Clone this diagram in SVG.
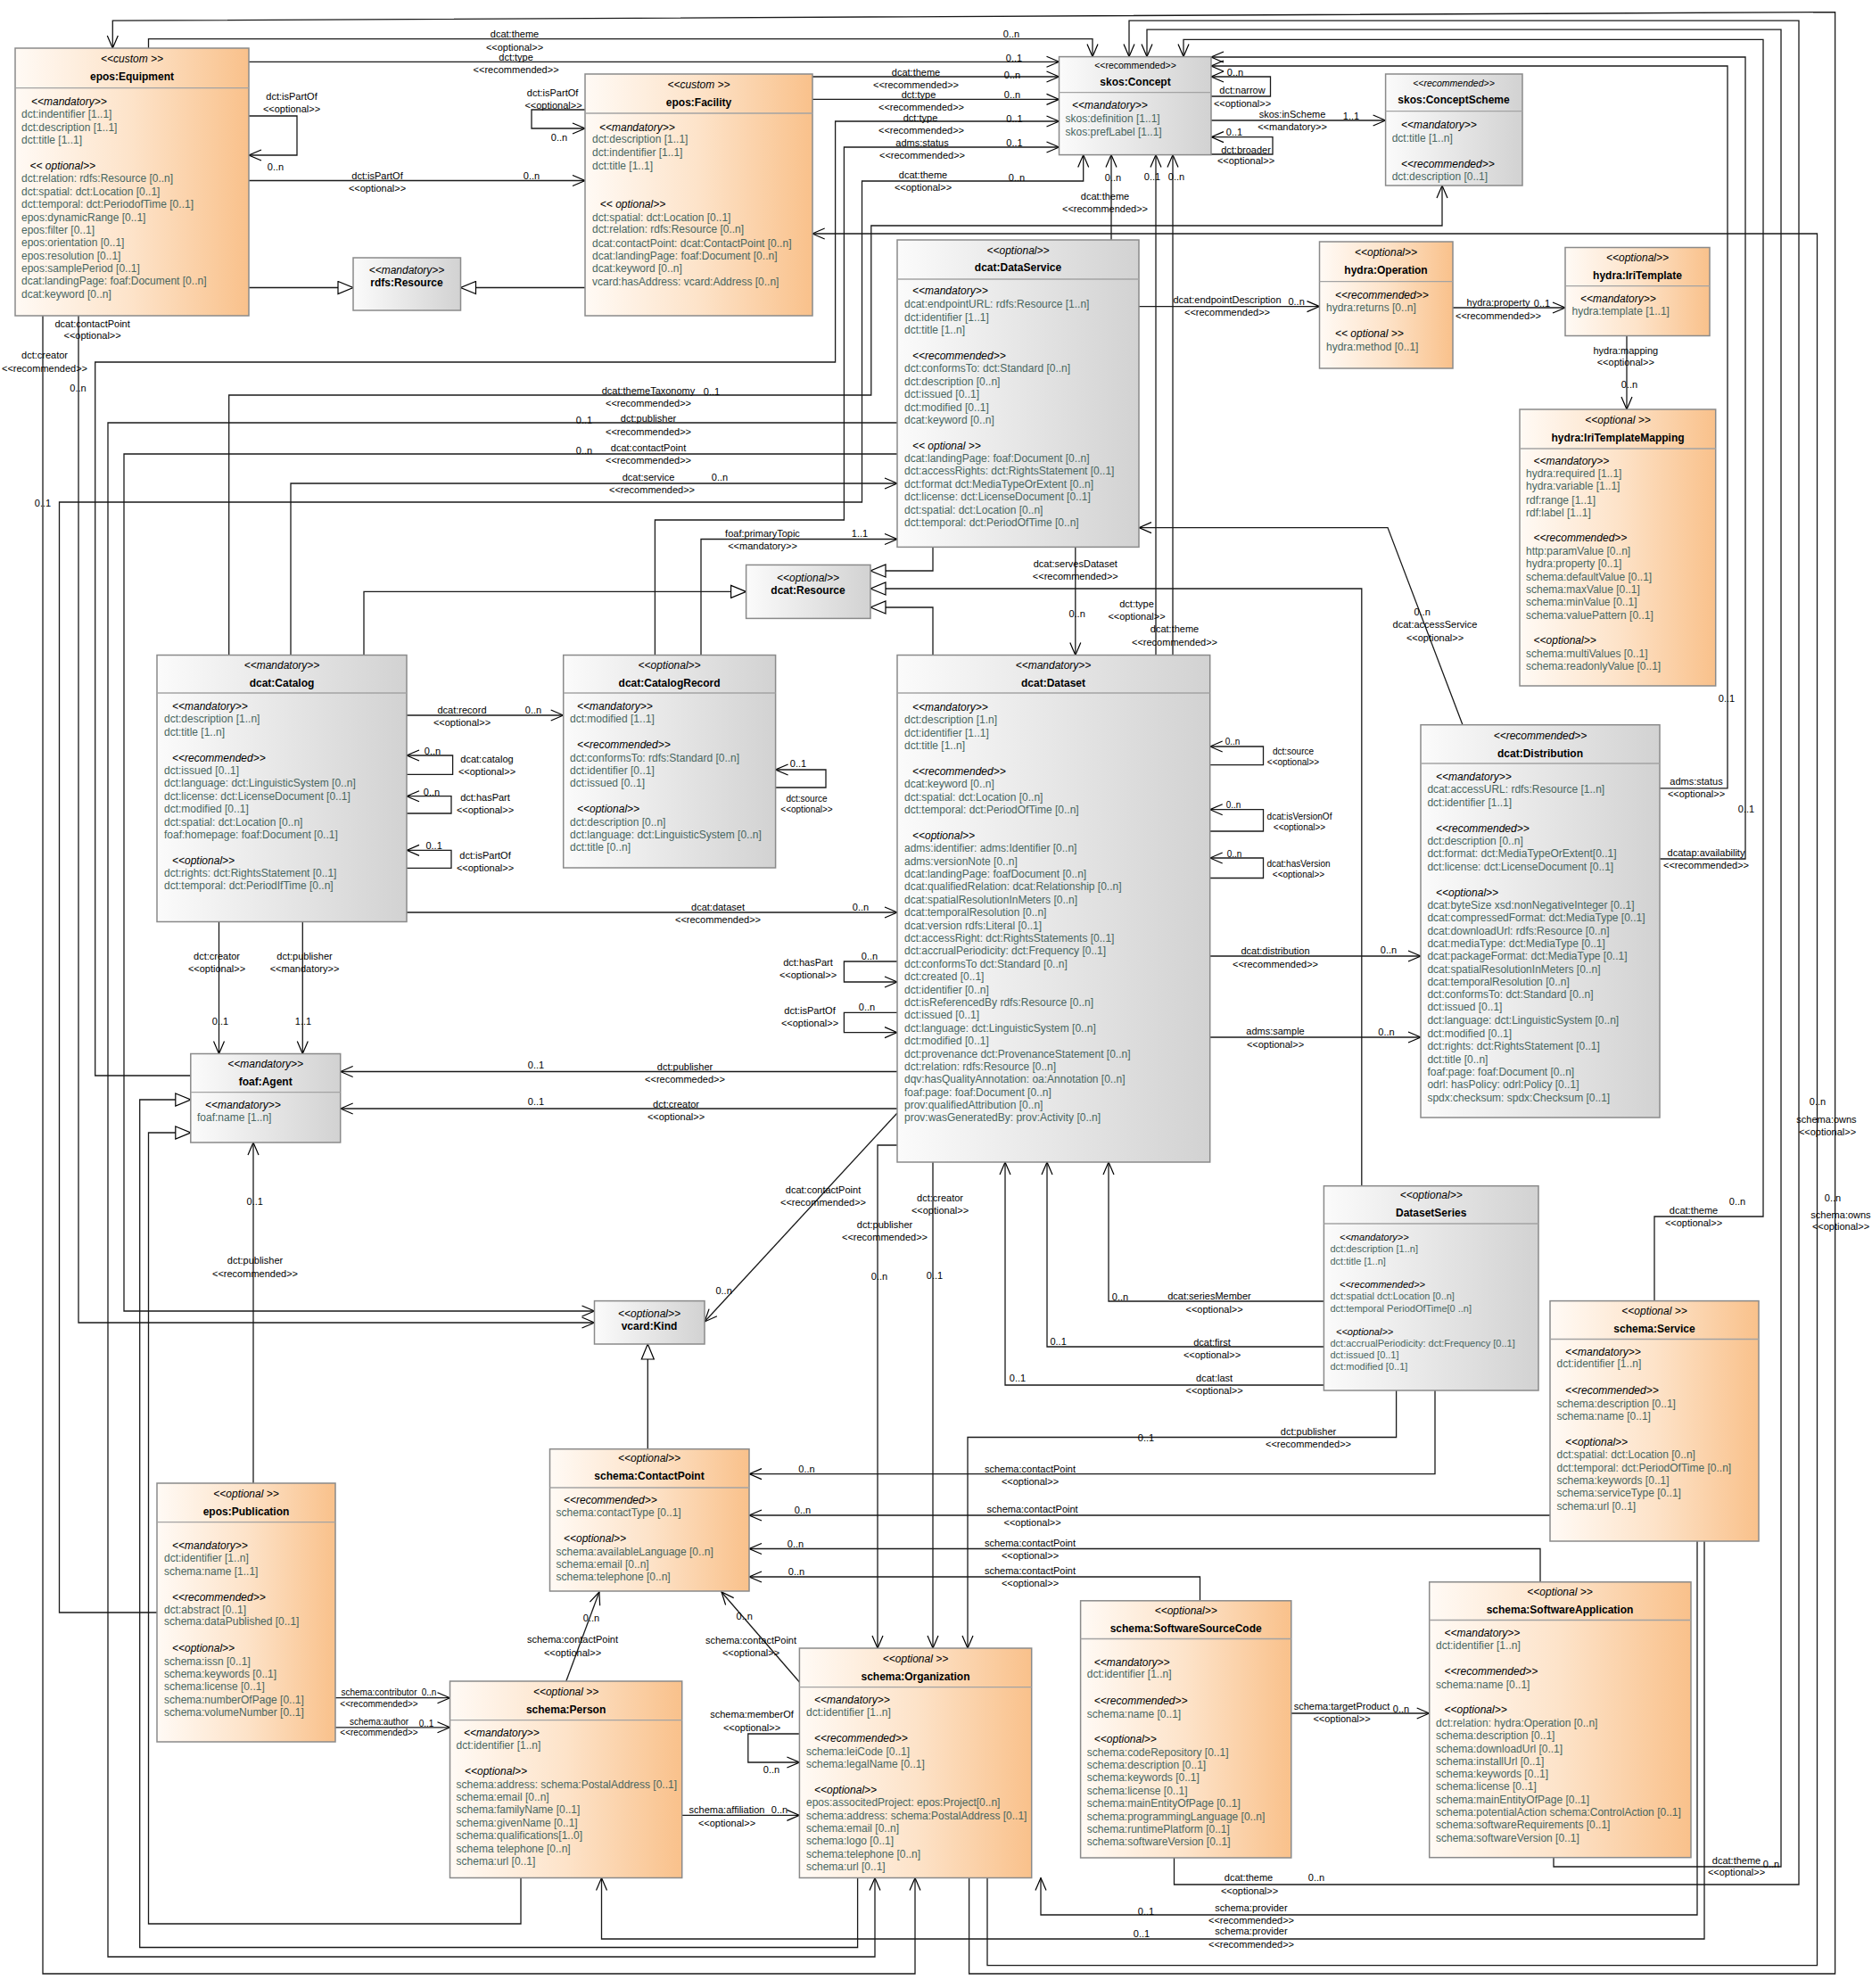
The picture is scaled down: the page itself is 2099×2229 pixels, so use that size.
<svg xmlns="http://www.w3.org/2000/svg" width="2099" height="2229" viewBox="0 0 2099 2229">
<defs>
<style>
text{font-family:"Liberation Sans",Arial,sans-serif;fill:#000}
.st{font-size:12px;font-style:italic;text-anchor:middle}
.ss{font-size:10.5px;text-anchor:middle}
.ssi{font-size:10.5px;font-style:italic;text-anchor:middle}
.nm{font-size:12px;font-weight:bold;text-anchor:middle}
.sec{font-size:12px;font-style:italic}
.at{font-size:12px;fill:#48665f}
.sec11{font-size:11px;font-style:italic}
.at11{font-size:11px;fill:#48665f}
.lb{font-size:11px;text-anchor:middle}
.lbs{font-size:10px;text-anchor:middle}
.box{stroke:#8a8a8a;stroke-width:1.5}
.g{fill:url(#gg)}
.o{fill:url(#og)}
.sep{stroke:#a3a3a3;stroke-width:1.3}
.cn path{fill:none;stroke:#1a1a1a;stroke-width:1.3}
.ar{marker-end:url(#ar)}
.tr{marker-end:url(#tr)}
</style>
<linearGradient id="gg" x1="0" y1="0" x2="1" y2="0"><stop offset="0" stop-color="#fbfbfb"/><stop offset="1" stop-color="#d2d2d2"/></linearGradient>
<linearGradient id="og" x1="0" y1="0" x2="1" y2="0"><stop offset="0" stop-color="#fffaf5"/><stop offset="0.5" stop-color="#fde3c9"/><stop offset="1" stop-color="#f9c18b"/></linearGradient>
<marker id="ar" viewBox="0 0 16 14" refX="15" refY="7" markerWidth="16" markerHeight="14" markerUnits="userSpaceOnUse" orient="auto"><path d="M1,1 L15,7 L1,13" fill="none" stroke="#000" stroke-width="1.2"/></marker>
<marker id="tr" viewBox="0 0 19 16" refX="18" refY="8" markerWidth="19" markerHeight="16" markerUnits="userSpaceOnUse" orient="auto"><path d="M1,1 L18,8 L1,15 Z" fill="#fff" stroke="#000" stroke-width="1.2"/></marker>
</defs>
<rect width="2099" height="2229" fill="#fff"/>

<g id="connectors" class="cn">
<path class="ar" d="M166.5,54 V43.6 H1225 V63.6"/>
<path class="ar" d="M279,69.3 H1187.5"/>
<path class="ar" d="M910.7,86 H1187.5"/>
<path class="ar" d="M910.7,111.4 H1187.5"/>
<path class="ar" d="M213.8,1206 H106.7 V406 H936.6 V136 H1187.5"/>
<path class="ar" d="M734.4,734.5 V583 H946.4 V165 H1187.5"/>
<path class="ar" d="M176,1808 H66.5 V563 H966.5 V203 H1214.7 V173.6"/>
<path class="ar" d="M1246,269 V173.6"/>
<path class="ar" d="M1296,734.5 V173.6"/>
<path class="ar" d="M1315,734.5 V173.6"/>
<path class="ar" d="M1358,108 H1424.5 V86 H1358"/>
<path class="ar" d="M1358,135 H1553.6"/>
<path class="ar" d="M1358,173 H1427 V153.6 H1358"/>
<path class="ar" d="M1861,963 H1957 V64 H1358"/>
<path class="ar" d="M1861,883.8 H1937 V74 H1358"/>
<path class="ar" d="M1855,1458.6 V1364 H1977 V44.3 H1327 V63.6"/>
<path class="ar" d="M1742,2082.7 V2093 H1997 V33.2 H1286 V63.6"/>
<path class="ar" d="M1316.5,2083 V2113 H2017 V23.2 H1266 V63.6"/>
<path class="ar" d="M1107,2105.5 V2203.7 H2037.5 V262 H910.7"/>
<path class="ar" d="M1086.6,2105.5 V2213 H2057.6 V13.6 L126.3,23.2 V54"/>
<path class="ar" d="M48,354 V2213 H1026 V2105.5"/>
<path class="ar" d="M88,354 V1483 H666.5"/>
<path class="ar" d="M1006,509 H139 V1470 H666.5"/>
<path class="ar" d="M1006,474 H121 V2194 H981 V2105.5"/>
<path class="ar" d="M256.7,734.5 V443 H976.8 V253 H1617 V208"/>
<path class="ar" d="M326,734.5 V542 H1006"/>
<path class="tr" d="M408,734.5 V663.4 H836.6"/>
<path class="tr" d="M1046,613.4 V640 H976"/>
<path class="tr" d="M1046,734.5 V681 H976"/>
<path class="tr" d="M1526.8,1329.7 V660 H976"/>
<path class="ar" d="M786,734.5 V604.5 H1006"/>
<path class="ar" d="M1205.8,613.4 V734.5"/>
<path class="ar" d="M1277,343.6 H1479.5"/>
<path class="ar" d="M1629,345 H1755"/>
<path class="ar" d="M1824,376.4 V459"/>
<path class="ar" d="M1640,812.7 L1556,591.6 H1277"/>
<path class="ar" d="M1356.7,1072 H1593"/>
<path class="ar" d="M1356.7,1163 H1593"/>
<path class="ar" d="M1356.7,857.7 H1416.5 V837 H1356.7"/>
<path class="ar" d="M1356.7,932 H1416.5 V907.7 H1356.7"/>
<path class="ar" d="M1356.7,984.5 H1416.5 V962 H1356.7"/>
<path class="ar" d="M1006,1078 H946.4 V1101 H1006"/>
<path class="ar" d="M1006,1135.4 H946.4 V1157.6 H1006"/>
<path class="ar" d="M1006,1201.5 H381.7"/>
<path class="ar" d="M1006,1243 H381.7"/>
<path class="ar" d="M1006,1248 L790,1482"/>
<path class="ar" d="M1006,1284 H984 V1848"/>
<path class="ar" d="M1046,1303 V1848"/>
<path class="ar" d="M1565.6,1559 V1611.5 H1085 V1848"/>
<path class="ar" d="M1484.4,1459 H1243 V1303"/>
<path class="ar" d="M1484.4,1510 H1174 V1303"/>
<path class="ar" d="M1484.4,1553 H1127 V1303"/>
<path class="ar" d="M1609,1559 V1652.6 H840"/>
<path class="ar" d="M1738,1699 H840"/>
<path class="ar" d="M1727,1773.8 V1736.5 H840"/>
<path class="ar" d="M1345.5,1794.8 V1768 H840"/>
<path class="ar" d="M634.8,1885 L671.9,1785"/>
<path class="ar" d="M896.4,1886 L809,1785"/>
<path class="tr" d="M726.3,1624.7 V1507"/>
<path class="ar" d="M376,1903.7 H504.5"/>
<path class="ar" d="M376,1936.8 H504.5"/>
<path class="ar" d="M764.7,2035.4 H896.4"/>
<path class="ar" d="M896.4,1944 H838.8 V1976 H896.4"/>
<path class="ar" d="M1447.8,1921 H1602.7"/>
<path class="ar" d="M1903,1728 V2147 H1167 V2105.5"/>
<path class="ar" d="M1911,1728 V2174 H674.5 V2105.5"/>
<path class="tr" d="M961.6,2105.5 V2183.5 H156.7 V1233 H213.8"/>
<path class="tr" d="M584,2105.5 V2157 H166.5 V1270 H213.8"/>
<path class="ar" d="M456,802 H631.7"/>
<path class="ar" d="M456,868.4 H507.6 V847 H456"/>
<path class="ar" d="M456,912 H506 V892.7 H456"/>
<path class="ar" d="M456,973.4 H506 V953.4 H456"/>
<path class="ar" d="M456,1023 H1006"/>
<path class="ar" d="M245.5,1033.4 V1181.5"/>
<path class="ar" d="M339.3,1033.4 V1181.5"/>
<path class="ar" d="M284,1663 V1281"/>
<path class="ar" d="M869.6,883 H926 V863 H869.6"/>
<path class="ar" d="M279,130 H333 V174 H279"/>
<path class="ar" d="M279,202.5 H656"/>
<path class="ar" d="M656,123 H596 V144 H656"/>
<path class="tr" d="M279,322.5 H396"/>
<path class="tr" d="M656,322.5 H516.5"/>
</g>

<g id="connector-labels">
<text class="lb" x="577" y="42">dcat:theme</text><text class="lb" x="577" y="56.5">&lt;&lt;optional&gt;&gt;</text><text class="lb" x="1134" y="42">0..n</text>
<text class="lb" x="578.6" y="68">dct:type</text><text class="lb" x="578.6" y="82">&lt;&lt;recommended&gt;&gt;</text><text class="lb" x="1137" y="69">0..1</text>
<text class="lb" x="1027" y="85.4">dcat:theme</text><text class="lb" x="1027" y="99">&lt;&lt;recommended&gt;&gt;</text><text class="lb" x="1135" y="88">0..n</text>
<text class="lb" x="1030" y="110.4">dct:type</text><text class="lb" x="1033" y="124">&lt;&lt;recommended&gt;&gt;</text><text class="lb" x="1135" y="110">0..n</text>
<text class="lb" x="1032" y="136">dct:type</text><text class="lb" x="1033" y="150.4">&lt;&lt;recommended&gt;&gt;</text><text class="lb" x="1137.5" y="136.5">0..1</text>
<text class="lb" x="1034" y="164">adms:status</text><text class="lb" x="1034" y="178">&lt;&lt;recommended&gt;&gt;</text><text class="lb" x="1137.5" y="163.6">0..1</text>
<text class="lb" x="1035" y="200">dcat:theme</text><text class="lb" x="1035" y="214">&lt;&lt;optional&gt;&gt;</text><text class="lb" x="1140" y="202.6">0..n</text>
<text class="lb" x="1248" y="203">0..n</text><text class="lb" x="1239" y="224">dcat:theme</text><text class="lb" x="1239" y="238">&lt;&lt;recommended&gt;&gt;</text>
<text class="lb" x="1292" y="201.5">0..1</text><text class="lb" x="1274.5" y="681">dct:type</text><text class="lb" x="1274.5" y="695">&lt;&lt;optional&gt;&gt;</text>
<text class="lb" x="1319" y="201.5">0..n</text><text class="lb" x="1317" y="709">dcat:theme</text><text class="lb" x="1317" y="723.5">&lt;&lt;recommended&gt;&gt;</text>
<text class="lb" x="1393" y="105">dct:narrow</text><text class="lb" x="1393" y="119.5">&lt;&lt;optional&gt;&gt;</text><text class="lb" x="1385" y="85">0..n</text>
<text class="lb" x="1449" y="132">skos:inScheme</text><text class="lb" x="1449" y="146">&lt;&lt;mandatory&gt;&gt;</text><text class="lb" x="1515" y="134">1..1</text>
<text class="lb" x="1397" y="172">dct:broader</text><text class="lb" x="1397" y="184">&lt;&lt;optional&gt;&gt;</text><text class="lb" x="1384" y="152">0..1</text>
<text class="lb" x="1913" y="960">dcatap:availability</text><text class="lb" x="1913" y="974">&lt;&lt;recommended&gt;&gt;</text><text class="lb" x="1958" y="910.6">0..1</text>
<text class="lb" x="1902" y="880">adms:status</text><text class="lb" x="1902" y="894">&lt;&lt;optional&gt;&gt;</text><text class="lb" x="1936" y="787">0..1</text>
<text class="lb" x="1899" y="1361">dcat:theme</text><text class="lb" x="1899" y="1375">&lt;&lt;optional&gt;&gt;</text><text class="lb" x="1948" y="1351">0..n</text>
<text class="lb" x="1947" y="2089.6">dcat:theme</text><text class="lb" x="1986" y="2094">0..n</text><text class="lb" x="1947" y="2103">&lt;&lt;optional&gt;&gt;</text>
<text class="lb" x="1400" y="2109">dcat:theme</text><text class="lb" x="1401" y="2124">&lt;&lt;optional&gt;&gt;</text><text class="lb" x="1476" y="2109">0..n</text>
<text class="lb" x="2038" y="1239">0..n</text><text class="lb" x="2048" y="1259">schema:owns</text><text class="lb" x="2049" y="1273">&lt;&lt;optional&gt;&gt;</text>
<text class="lb" x="2055" y="1346.6">0..n</text><text class="lb" x="2064" y="1365.5">schema:owns</text><text class="lb" x="2064" y="1379.4">&lt;&lt;optional&gt;&gt;</text>
<text class="lb" x="50" y="402">dct:creator</text><text class="lb" x="50" y="416.5">&lt;&lt;recommended&gt;&gt;</text><text class="lb" x="48" y="568">0..1</text>
<text class="lb" x="103.6" y="366.5">dcat:contactPoint</text><text class="lb" x="103.6" y="380">&lt;&lt;optional&gt;&gt;</text><text class="lb" x="87.5" y="438.6">0..n</text>
<text class="lb" x="727" y="506">dcat:contactPoint</text><text class="lb" x="727" y="519.6">&lt;&lt;recommended&gt;&gt;</text><text class="lb" x="655" y="509">0..n</text>
<text class="lb" x="727" y="472.6">dct:publisher</text><text class="lb" x="727" y="488">&lt;&lt;recommended&gt;&gt;</text><text class="lb" x="655" y="475">0..1</text>
<text class="lb" x="727" y="442">dcat:themeTaxonomy</text><text class="lb" x="727" y="456">&lt;&lt;recommended&gt;&gt;</text><text class="lb" x="798" y="442.6">0..1</text>
<text class="lb" x="727" y="539">dcat:service</text><text class="lb" x="731" y="553">&lt;&lt;recommended&gt;&gt;</text><text class="lb" x="807" y="539">0..n</text>
<text class="lb" x="855" y="602">foaf:primaryTopic</text><text class="lb" x="855" y="616">&lt;&lt;mandatory&gt;&gt;</text><text class="lb" x="964" y="602">1..1</text>
<text class="lb" x="1205.8" y="636">dcat:servesDataset</text><text class="lb" x="1205.8" y="650">&lt;&lt;recommended&gt;&gt;</text><text class="lb" x="1207.6" y="691.7">0..n</text>
<text class="lb" x="1376" y="339.7">dcat:endpointDescription</text><text class="lb" x="1376" y="354">&lt;&lt;recommended&gt;&gt;</text><text class="lb" x="1453.6" y="342">0..n</text>
<text class="lb" x="1680" y="343">hydra:property</text><text class="lb" x="1729" y="344">0..1</text><text class="lb" x="1680" y="357.6">&lt;&lt;recommended&gt;&gt;</text>
<text class="lb" x="1822.8" y="396.5">hydra:mapping</text><text class="lb" x="1822.8" y="410">&lt;&lt;optional&gt;&gt;</text><text class="lb" x="1827" y="435.4">0..n</text>
<text class="lb" x="1594.6" y="689.6">0..n</text><text class="lb" x="1609" y="704">dcat:accessService</text><text class="lb" x="1609" y="718.5">&lt;&lt;optional&gt;&gt;</text>
<text class="lb" x="1430" y="1070">dcat:distribution</text><text class="lb" x="1430" y="1085">&lt;&lt;recommended&gt;&gt;</text><text class="lb" x="1557" y="1069">0..n</text>
<text class="lb" x="1430" y="1160">adms:sample</text><text class="lb" x="1430" y="1175">&lt;&lt;optional&gt;&gt;</text><text class="lb" x="1554.5" y="1161">0..n</text>
<text class="lbs" x="1382" y="835">0..n</text><text class="lbs" x="1450" y="845.5">dct:source</text><text class="lbs" x="1450" y="857.5">&lt;&lt;optional&gt;&gt;</text>
<text class="lbs" x="1383" y="905.6">0..n</text><text class="lbs" x="1457" y="918.5">dcat:isVersionOf</text><text class="lbs" x="1457" y="930.5">&lt;&lt;optional&gt;&gt;</text>
<text class="lbs" x="1384" y="961">0..n</text><text class="lbs" x="1456" y="971.5">dcat:hasVersion</text><text class="lbs" x="1456" y="984">&lt;&lt;optional&gt;&gt;</text>
<text class="lb" x="975" y="1075.6">0..n</text><text class="lb" x="906" y="1083">dct:hasPart</text><text class="lb" x="906" y="1097.4">&lt;&lt;optional&gt;&gt;</text>
<text class="lb" x="908" y="1136.6">dct:isPartOf</text><text class="lb" x="908" y="1151">&lt;&lt;optional&gt;&gt;</text><text class="lb" x="972" y="1133">0..n</text>
<text class="lb" x="768" y="1200">dct:publisher</text><text class="lb" x="768" y="1214">&lt;&lt;recommeded&gt;&gt;</text><text class="lb" x="601" y="1198">0..1</text>
<text class="lb" x="758" y="1242">dct:creator</text><text class="lb" x="758" y="1256">&lt;&lt;optional&gt;&gt;</text><text class="lb" x="601" y="1239.4">0..1</text>
<text class="lb" x="923" y="1338">dcat:contactPoint</text><text class="lb" x="923" y="1352">&lt;&lt;recommended&gt;&gt;</text><text class="lb" x="811.6" y="1451">0..n</text>
<text class="lb" x="992" y="1377">dct:publisher</text><text class="lb" x="992" y="1391">&lt;&lt;recommended&gt;&gt;</text><text class="lb" x="986" y="1435">0..n</text>
<text class="lb" x="1054" y="1347">dct:creator</text><text class="lb" x="1054" y="1361">&lt;&lt;optional&gt;&gt;</text><text class="lb" x="1048" y="1434">0..1</text>
<text class="lb" x="1467" y="1609">dct:publisher</text><text class="lb" x="1467" y="1623">&lt;&lt;recommended&gt;&gt;</text><text class="lb" x="1285" y="1616">0..1</text>
<text class="lb" x="1356" y="1457">dcat:seriesMember</text><text class="lb" x="1361.6" y="1471.6">&lt;&lt;optional&gt;&gt;</text><text class="lb" x="1256" y="1458">0..n</text>
<text class="lb" x="1359" y="1509">dcat:first</text><text class="lb" x="1359" y="1523">&lt;&lt;optional&gt;&gt;</text><text class="lb" x="1186.6" y="1508">0..1</text>
<text class="lb" x="1361.6" y="1549">dcat:last</text><text class="lb" x="1361.6" y="1563">&lt;&lt;optional&gt;&gt;</text><text class="lb" x="1141" y="1549">0..1</text>
<text class="lb" x="904.5" y="1651">0..n</text><text class="lb" x="1155" y="1651">schema:contactPoint</text><text class="lb" x="1155" y="1665">&lt;&lt;optional&gt;&gt;</text>
<text class="lb" x="900" y="1697">0..n</text><text class="lb" x="1157.6" y="1696">schema:contactPoint</text><text class="lb" x="1157.6" y="1710.6">&lt;&lt;optional&gt;&gt;</text>
<text class="lb" x="892" y="1735">0..n</text><text class="lb" x="1155" y="1734">schema:contactPoint</text><text class="lb" x="1155" y="1748">&lt;&lt;optional&gt;&gt;</text>
<text class="lb" x="893" y="1766">0..n</text><text class="lb" x="1155" y="1765">schema:contactPoint</text><text class="lb" x="1155" y="1779">&lt;&lt;optional&gt;&gt;</text>
<text class="lb" x="663" y="1818.4">0..n</text><text class="lb" x="642" y="1842">schema:contactPoint</text><text class="lb" x="642" y="1856.5">&lt;&lt;optional&gt;&gt;</text>
<text class="lb" x="834.8" y="1815.6">0..n</text><text class="lb" x="842" y="1843">schema:contactPoint</text><text class="lb" x="842" y="1857">&lt;&lt;optional&gt;&gt;</text>
<text class="lbs" x="425" y="1901">schema:contributor</text><text class="lbs" x="481" y="1901">0..n</text><text class="lbs" x="425" y="1913.5">&lt;&lt;recommended&gt;&gt;</text>
<text class="lbs" x="425" y="1934">schema:author</text><text class="lbs" x="478" y="1936">0..1</text><text class="lbs" x="425" y="1946">&lt;&lt;recommended&gt;&gt;</text>
<text class="lb" x="815" y="2033">schema:affiliation</text><text class="lb" x="874" y="2033">0..n</text><text class="lb" x="815" y="2047.6">&lt;&lt;optional&gt;&gt;</text>
<text class="lb" x="843" y="1926">schema:memberOf</text><text class="lb" x="843" y="1940.5">&lt;&lt;optional&gt;&gt;</text><text class="lb" x="865" y="1988">0..n</text>
<text class="lb" x="1504.5" y="1917">schema:targetProduct</text><text class="lb" x="1571" y="1919.5">0..n</text><text class="lb" x="1504.5" y="1931">&lt;&lt;optional&gt;&gt;</text>
<text class="lb" x="1285" y="2146.5">0..1</text><text class="lb" x="1403" y="2143">schema:provider</text><text class="lb" x="1403" y="2157">&lt;&lt;recommended&gt;&gt;</text>
<text class="lb" x="1280" y="2172">0..1</text><text class="lb" x="1403" y="2169">schema:provider</text><text class="lb" x="1403" y="2184">&lt;&lt;recommended&gt;&gt;</text>
<text class="lb" x="518" y="800">dcat:record</text><text class="lb" x="518" y="814">&lt;&lt;optional&gt;&gt;</text><text class="lb" x="598" y="800">0..n</text>
<text class="lb" x="485" y="845.5">0..n</text><text class="lb" x="546" y="855">dcat:catalog</text><text class="lb" x="546" y="869">&lt;&lt;optional&gt;&gt;</text>
<text class="lb" x="484" y="891.5">0..n</text><text class="lb" x="544" y="898">dct:hasPart</text><text class="lb" x="544" y="912">&lt;&lt;optional&gt;&gt;</text>
<text class="lb" x="486.6" y="952">0..1</text><text class="lb" x="544" y="962.8">dct:isPartOf</text><text class="lb" x="544" y="977">&lt;&lt;optional&gt;&gt;</text>
<text class="lb" x="805" y="1021">dcat:dataset</text><text class="lb" x="805" y="1035">&lt;&lt;recommended&gt;&gt;</text><text class="lb" x="965" y="1021">0..n</text>
<text class="lb" x="243" y="1076">dct:creator</text><text class="lb" x="243" y="1090">&lt;&lt;optional&gt;&gt;</text><text class="lb" x="247" y="1149.4">0..1</text>
<text class="lb" x="341.5" y="1076">dct:publisher</text><text class="lb" x="341.5" y="1090">&lt;&lt;mandatory&gt;&gt;</text><text class="lb" x="340" y="1149.4">1..1</text>
<text class="lb" x="285.7" y="1350.5">0..1</text><text class="lb" x="286" y="1417">dct:publisher</text><text class="lb" x="286" y="1431.6">&lt;&lt;recommended&gt;&gt;</text>
<text class="lb" x="895" y="860">0..1</text><text class="lbs" x="904.5" y="898.5">dct:source</text><text class="lbs" x="904.5" y="911">&lt;&lt;optional&gt;&gt;</text>
<text class="lb" x="327" y="112">dct:isPartOf</text><text class="lb" x="327" y="126">&lt;&lt;optional&gt;&gt;</text><text class="lb" x="309" y="191">0..n</text>
<text class="lb" x="423" y="201">dct:isPartOf</text><text class="lb" x="423" y="215">&lt;&lt;optional&gt;&gt;</text><text class="lb" x="596" y="201">0..n</text>
<text class="lb" x="619.6" y="108">dct:isPartOf</text><text class="lb" x="620.5" y="122">&lt;&lt;optional&gt;&gt;</text><text class="lb" x="627" y="158">0..n</text>
</g>

<g id="epos-Equipment">
<rect class="box o" x="17" y="54" width="262" height="300"/><line class="sep" x1="17" y1="98.6" x2="279" y2="98.6"/>
<text class="st" x="148" y="70">&lt;&lt;custom &gt;&gt;</text><text class="nm" x="148" y="90">epos:Equipment</text>
<text class="sec" x="35" y="118">&lt;&lt;mandatory&gt;&gt;</text>
<text class="at" x="24" y="131.5">dct:indentifier [1..1]</text><text class="at" x="24" y="147">dct:description [1..1]</text><text class="at" x="24" y="160.5">dct:title [1..1]</text>
<text class="sec" x="33.5" y="189.7">&lt;&lt; optional&gt;&gt;</text>
<text class="at" x="24" y="203.6">dct:relation: rdfs:Resource [0..n]</text>
<text class="at" x="24" y="218.6">dct:spatial: dct:Location [0..1]</text>
<text class="at" x="24" y="232.6">dct:temporal: dct:PeriodofTime [0..1]</text>
<text class="at" x="24" y="248">epos:dynamicRange [0..1]</text>
<text class="at" x="24" y="262">epos:filter [0..1]</text>
<text class="at" x="24" y="276">epos:orientation [0..1]</text>
<text class="at" x="24" y="290.8">epos:resolution [0..1]</text>
<text class="at" x="24" y="304.7">epos:samplePeriod [0..1]</text>
<text class="at" x="24" y="319">dcat:landingPage: foaf:Document [0..n]</text>
<text class="at" x="24" y="333.6">dcat:keyword [0..n]</text>
</g>

<g id="epos-Facility">
<rect class="box o" x="656" y="83" width="255" height="271"/><line class="sep" x1="656" y1="127" x2="911" y2="127"/>
<text class="st" x="783.5" y="99">&lt;&lt;custom &gt;&gt;</text><text class="nm" x="783.5" y="118.6">epos:Facility</text>
<text class="sec" x="672" y="147">&lt;&lt;mandatory&gt;&gt;</text>
<text class="at" x="664" y="160.4">dct:description [1..1]</text><text class="at" x="664" y="175.4">dct:indentifier [1..1]</text><text class="at" x="664" y="189.7">dct:title [1..1]</text>
<text class="sec" x="672.8" y="232.6">&lt;&lt; optional&gt;&gt;</text>
<text class="at" x="664" y="247.6">dct:spatial: dct:Location [0..1]</text>
<text class="at" x="664" y="261">dct:relation: rdfs:Resource [0..n]</text>
<text class="at" x="664" y="276.5">dcat:contactPoint: dcat:ContactPoint [0..n]</text>
<text class="at" x="664" y="290.8">dcat:landingPage: foaf:Document [0..n]</text>
<text class="at" x="664" y="304.7">dcat:keyword [0..n]</text>
<text class="at" x="664" y="319.7">vcard:hasAddress: vcard:Address [0..n]</text>
</g>

<g id="rdfs-Resource">
<rect class="box g" x="396" y="289" width="120.5" height="59"/>
<text class="st" x="456" y="307">&lt;&lt;mandatory&gt;&gt;</text><text class="nm" x="456" y="321">rdfs:Resource</text>
</g>

<g id="skos-Concept">
<rect class="box g" x="1187.5" y="63.6" width="170.5" height="110"/><line class="sep" x1="1187.5" y1="103.6" x2="1358" y2="103.6"/>
<text class="ss" x="1273" y="76.5">&lt;&lt;recommended&gt;&gt;</text><text class="nm" x="1273" y="96">skos:Concept</text>
<text class="sec" x="1202" y="122">&lt;&lt;mandatory&gt;&gt;</text>
<text class="at" x="1194.6" y="137">skos:definition [1..1]</text><text class="at" x="1194.6" y="151.5">skos:prefLabel [1..1]</text>
</g>

<g id="skos-ConceptScheme">
<rect class="box g" x="1553.6" y="83" width="153.4" height="125"/><line class="sep" x1="1553.6" y1="124.6" x2="1707" y2="124.6"/>
<text class="ssi" x="1630" y="97">&lt;&lt;recommended&gt;&gt;</text><text class="nm" x="1630" y="115.8">skos:ConceptScheme</text>
<text class="sec" x="1571" y="144">&lt;&lt;mandatory&gt;&gt;</text><text class="at" x="1560.7" y="158.6">dct:title [1..n]</text>
<text class="sec" x="1571" y="188">&lt;&lt;recommended&gt;&gt;</text><text class="at" x="1560.7" y="201.5">dct:description [0..1]</text>
</g>

<g id="dcat-DataService">
<rect class="box g" x="1006" y="269" width="271" height="344.4"/><line class="sep" x1="1006" y1="313" x2="1277" y2="313"/>
<text class="st" x="1141.5" y="285">&lt;&lt;optional&gt;&gt;</text><text class="nm" x="1141.5" y="304">dcat:DataService</text>
<text class="sec" x="1023" y="330.4">&lt;&lt;mandatory&gt;&gt;</text>
<text class="at" x="1014" y="345">dcat:endpointURL: rdfs:Resource [1..n]</text>
<text class="at" x="1014" y="359.7">dct:identifier [1..1]</text>
<text class="at" x="1014" y="374">dct:title [1..n]</text>
<text class="sec" x="1023" y="402.6">&lt;&lt;recommended&gt;&gt;</text>
<text class="at" x="1014" y="417">dct:conformsTo: dct:Standard [0..n]</text>
<text class="at" x="1014" y="432">dct:description [0..n]</text>
<text class="at" x="1014" y="446">dct:issued [0..1]</text>
<text class="at" x="1014" y="460.8">dct:modified [0..1]</text>
<text class="at" x="1014" y="475">dcat:keyword [0..n]</text>
<text class="sec" x="1023" y="504">&lt;&lt; optional &gt;&gt;</text>
<text class="at" x="1014" y="518">dcat:landingPage: foaf:Document [0..n]</text>
<text class="at" x="1014" y="532">dct:accessRights: dct:RightsStatement [0..1]</text>
<text class="at" x="1014" y="547">dct:format dct:MediaTypeOrExtent [0..n]</text>
<text class="at" x="1014" y="561">dct:license: dct:LicenseDocument [0..1]</text>
<text class="at" x="1014" y="575.6">dct:spatial: dct:Location [0..n]</text>
<text class="at" x="1014" y="589.6">dct:temporal: dct:PeriodOfTime [0..n]</text>
</g>

<g id="hydra-Operation">
<rect class="box o" x="1479.5" y="271" width="149.5" height="142"/><line class="sep" x1="1479.5" y1="315.7" x2="1629" y2="315.7"/>
<text class="st" x="1554" y="287">&lt;&lt;optional&gt;&gt;</text><text class="nm" x="1554" y="307">hydra:Operation</text>
<text class="sec" x="1497" y="334.7">&lt;&lt;recommended&gt;&gt;</text><text class="at" x="1487" y="349">hydra:returns [0..n]</text>
<text class="sec" x="1497" y="378">&lt;&lt; optional &gt;&gt;</text><text class="at" x="1487" y="392.6">hydra:method [0..1]</text>
</g>

<g id="hydra-IriTemplate">
<rect class="box o" x="1755" y="277.5" width="162" height="99"/><line class="sep" x1="1755" y1="320.7" x2="1917" y2="320.7"/>
<text class="st" x="1836" y="293">&lt;&lt;optional&gt;&gt;</text><text class="nm" x="1836" y="312.6">hydra:IriTemplate</text>
<text class="sec" x="1772" y="338.6">&lt;&lt;mandatory&gt;&gt;</text><text class="at" x="1762.5" y="353">hydra:template [1..1]</text>
</g>

<g id="hydra-IriTemplateMapping">
<rect class="box o" x="1704" y="459" width="219.7" height="310"/><line class="sep" x1="1704" y1="503" x2="1923.7" y2="503"/>
<text class="st" x="1814" y="474.7">&lt;&lt;optional &gt;&gt;</text><text class="nm" x="1814" y="494.7">hydra:IriTemplateMapping</text>
<text class="sec" x="1719.6" y="520.8">&lt;&lt;mandatory&gt;&gt;</text>
<text class="at" x="1711" y="535">hydra:required [1..1]</text>
<text class="at" x="1711" y="549">hydra:variable [1..1]</text>
<text class="at" x="1711" y="564.6">rdf:range [1..1]</text>
<text class="at" x="1711" y="579">rdf:label [1..1]</text>
<text class="sec" x="1719.6" y="607">&lt;&lt;recommended&gt;&gt;</text>
<text class="at" x="1711" y="622">http:paramValue [0..n]</text>
<text class="at" x="1711" y="636">hydra:property [0..1]</text>
<text class="at" x="1711" y="650.6">schema:defaultValue [0..1]</text>
<text class="at" x="1711" y="664.6">schema:maxValue [0..1]</text>
<text class="at" x="1711" y="679">schema:minValue [0..1]</text>
<text class="at" x="1711" y="694">schema:valuePattern [0..1]</text>
<text class="sec" x="1719.6" y="722">&lt;&lt;optional&gt;&gt;</text>
<text class="at" x="1711" y="736.7">schema:multiValues [0..1]</text>
<text class="at" x="1711" y="750.6">schema:readonlyValue [0..1]</text>
</g>

<g id="dcat-Resource">
<rect class="box g" x="836.6" y="633.4" width="139.4" height="60"/>
<text class="st" x="906" y="652">&lt;&lt;optional&gt;&gt;</text><text class="nm" x="906" y="665.6">dcat:Resource</text>
</g>

<g id="dcat-Catalog">
<rect class="box g" x="176" y="734.5" width="280" height="299"/><line class="sep" x1="176" y1="777" x2="456" y2="777"/>
<text class="st" x="316" y="750">&lt;&lt;mandatory&gt;&gt;</text><text class="nm" x="316" y="769.6">dcat:Catalog</text>
<text class="sec" x="193" y="795.6">&lt;&lt;mandatory&gt;&gt;</text>
<text class="at" x="184" y="809.6">dct:description [1..n]</text>
<text class="at" x="184" y="824.6">dct:title [1..n]</text>
<text class="sec" x="193" y="854">&lt;&lt;recommended&gt;&gt;</text>
<text class="at" x="184" y="867.8">dct:issued [0..1]</text>
<text class="at" x="184" y="882">dct:language: dct:LinguisticSystem [0..n]</text>
<text class="at" x="184" y="896.7">dct:license: dct:LicenseDocument [0..1]</text>
<text class="at" x="184" y="910.6">dct:modified [0..1]</text>
<text class="at" x="184" y="925.6">dct:spatial: dct:Location [0..n]</text>
<text class="at" x="184" y="939.6">foaf:homepage: foaf:Document [0..1]</text>
<text class="sec" x="193" y="969">&lt;&lt;optional&gt;&gt;</text>
<text class="at" x="184" y="982.8">dct:rights: dct:RightsStatement [0..1]</text>
<text class="at" x="184" y="996.7">dct:temporal: dct:PeriodIfTime [0..n]</text>
</g>

<g id="dcat-CatalogRecord">
<rect class="box g" x="631.7" y="734.5" width="237.9" height="238.5"/><line class="sep" x1="631.7" y1="777" x2="869.6" y2="777"/>
<text class="st" x="750.6" y="750">&lt;&lt;optional&gt;&gt;</text><text class="nm" x="750.6" y="769.6">dcat:CatalogRecord</text>
<text class="sec" x="647" y="795.6">&lt;&lt;mandatory&gt;&gt;</text>
<text class="at" x="639" y="809.6">dct:modified [1..1]</text>
<text class="sec" x="647" y="838.9">&lt;&lt;recommended&gt;&gt;</text>
<text class="at" x="639" y="853.9">dct:conformsTo: rdfs:Standard [0..n]</text>
<text class="at" x="639" y="867.8">dct:identifier [0..1]</text>
<text class="at" x="639" y="882">dct:issued [0..1]</text>
<text class="sec" x="647" y="911">&lt;&lt;optional&gt;&gt;</text>
<text class="at" x="639" y="925.6">dct:description [0..n]</text>
<text class="at" x="639" y="939.6">dct:language: dct:LinguisticSystem [0..n]</text>
<text class="at" x="639" y="954">dct:title [0..n]</text>
</g>

<g id="dcat-Dataset">
<rect class="box g" x="1006" y="734.5" width="350.7" height="568.5"/><line class="sep" x1="1006" y1="777" x2="1356.7" y2="777"/>
<text class="st" x="1181" y="750">&lt;&lt;mandatory&gt;&gt;</text><text class="nm" x="1181" y="769.6">dcat:Dataset</text>
<text class="sec" x="1023" y="796.7">&lt;&lt;mandatory&gt;&gt;</text>
<text class="at" x="1014" y="811">dct:description [1.n]</text>
<text class="at" x="1014" y="826">dct:identifier [1..1]</text>
<text class="at" x="1014" y="839.6">dct:title [1..n]</text>
<text class="sec" x="1023" y="869">&lt;&lt;recommended&gt;&gt;</text>
<text class="at" x="1014" y="883">dcat:keyword [0..n]</text>
<text class="at" x="1014" y="897.8">dct:spatial: dct:Location [0..n]</text>
<text class="at" x="1014" y="911.7">dct:temporal: dct:PeriodOfTime [0..n]</text>
<text class="sec" x="1023" y="940.6">&lt;&lt;optional&gt;&gt;</text>
<text class="at" x="1014" y="955">adms:identifier: adms:Identifier [0..n]</text>
<text class="at" x="1014" y="969.6">adms:versionNote [0..n]</text>
<text class="at" x="1014" y="984">dcat:landingPage: foafDocument [0..n]</text>
<text class="at" x="1014" y="997.8">dcat:qualifiedRelation: dcat:Relationship [0..n]</text>
<text class="at" x="1014" y="1012.8">dcat:spatialResolutionInMeters [0..n]</text>
<text class="at" x="1014" y="1027">dcat:temporalResolution [0..n]</text>
<text class="at" x="1014" y="1041.7">dcat:version rdfs:Literal [0..1]</text>
<text class="at" x="1014" y="1056">dct:accessRight: dct:RightsStatements [0..1]</text>
<text class="at" x="1014" y="1070">dct:accrualPeriodicity: dct:Frequency [0..1]</text>
<text class="at" x="1014" y="1084.6">dct:conformsTo dct:Standard [0..n]</text>
<text class="at" x="1014" y="1098.9">dct:created [0..1]</text>
<text class="at" x="1014" y="1113.5">dct:identifier [0..n]</text>
<text class="at" x="1014" y="1127.6">dct:isReferencedBy rdfs:Resource [0..n]</text>
<text class="at" x="1014" y="1142">dct:issued [0..1]</text>
<text class="at" x="1014" y="1156.6">dct:language: dct:LinguisticSystem [0..n]</text>
<text class="at" x="1014" y="1170.9">dct:modified [0..1]</text>
<text class="at" x="1014" y="1185.5">dct:provenance dct:ProvenanceStatement [0..n]</text>
<text class="at" x="1014" y="1199.8">dct:relation: rdfs:Resource [0..n]</text>
<text class="at" x="1014" y="1214">dqv:hasQualityAnnotation: oa:Annotation [0..n]</text>
<text class="at" x="1014" y="1228.7">foaf:page: foaf:Document [0..n]</text>
<text class="at" x="1014" y="1242.6">prov:qualifiedAttribution [0..n]</text>
<text class="at" x="1014" y="1257">prov:wasGeneratedBy: prov:Activity [0..n]</text>
</g>

<g id="dcat-Distribution">
<rect class="box g" x="1593" y="812.7" width="268" height="440.3"/><line class="sep" x1="1593" y1="856" x2="1861" y2="856"/>
<text class="st" x="1727" y="828.5">&lt;&lt;recommended&gt;&gt;</text><text class="nm" x="1727" y="849">dcat:Distribution</text>
<text class="sec" x="1610" y="875">&lt;&lt;mandatory&gt;&gt;</text>
<text class="at" x="1600.4" y="889">dcat:accessURL: rdfs:Resource [1..n]</text>
<text class="at" x="1600.4" y="904">dct:identifier [1..1]</text>
<text class="sec" x="1610" y="933">&lt;&lt;recommended&gt;&gt;</text>
<text class="at" x="1600.4" y="947">dct:description [0..n]</text>
<text class="at" x="1600.4" y="961">dct:format: dct:MediaTypeOrExtent[0..1]</text>
<text class="at" x="1600.4" y="975.6">dct:license: dct:LicenseDocument [0..1]</text>
<text class="sec" x="1610" y="1005">&lt;&lt;optional&gt;&gt;</text>
<text class="at" x="1600.4" y="1019">dcat:byteSize xsd:nonNegativeInteger [0..1]</text>
<text class="at" x="1600.4" y="1033">dcat:compressedFormat: dct:MediaType [0..1]</text>
<text class="at" x="1600.4" y="1047.8">dcat:downloadUrl: rdfs:Resource [0..n]</text>
<text class="at" x="1600.4" y="1061.7">dcat:mediaType: dct:MediaType [0..1]</text>
<text class="at" x="1600.4" y="1076">dcat:packageFormat: dct:MediaType [0..1]</text>
<text class="at" x="1600.4" y="1090.6">dcat:spatialResolutionInMeters [0..n]</text>
<text class="at" x="1600.4" y="1104.6">dcat:temporalResolution [0..n]</text>
<text class="at" x="1600.4" y="1119">dct:conformsTo: dct:Standard [0..n]</text>
<text class="at" x="1600.4" y="1133">dct:issued [0..1]</text>
<text class="at" x="1600.4" y="1148">dct:language: dct:LinguisticSystem [0..n]</text>
<text class="at" x="1600.4" y="1162.6">dct:modified [0..1]</text>
<text class="at" x="1600.4" y="1176.6">dct:rights: dct:RightsStatement [0..1]</text>
<text class="at" x="1600.4" y="1191.6">dct:title [0..n]</text>
<text class="at" x="1600.4" y="1206">foaf:page: foaf:Document [0..n]</text>
<text class="at" x="1600.4" y="1220">odrl: hasPolicy: odrl:Policy [0..1]</text>
<text class="at" x="1600.4" y="1234.8">spdx:checksum: spdx:Checksum [0..1]</text>
</g>

<g id="foaf-Agent">
<rect class="box g" x="213.8" y="1181.5" width="167.9" height="99.5"/><line class="sep" x1="213.8" y1="1224.7" x2="381.7" y2="1224.7"/>
<text class="st" x="297.7" y="1197">&lt;&lt;mandatory&gt;&gt;</text><text class="nm" x="297.7" y="1217">foaf:Agent</text>
<text class="sec" x="230" y="1243">&lt;&lt;mandatory&gt;&gt;</text><text class="at" x="221" y="1257">foaf:name [1..n]</text>
</g>

<g id="vcard-Kind">
<rect class="box g" x="666.5" y="1458.6" width="123.5" height="48.4"/>
<text class="st" x="728" y="1477">&lt;&lt;optional&gt;&gt;</text><text class="nm" x="728" y="1491">vcard:Kind</text>
</g>

<g id="schema-ContactPoint">
<rect class="box o" x="616.5" y="1624.7" width="223.5" height="159.3"/><line class="sep" x1="616.5" y1="1668" x2="840" y2="1668"/>
<text class="st" x="728" y="1639.4">&lt;&lt;optional&gt;&gt;</text><text class="nm" x="728" y="1659.4">schema:ContactPoint</text>
<text class="sec" x="632" y="1685.7">&lt;&lt;recommended&gt;&gt;</text>
<text class="at" x="623.6" y="1700">schema:contactType [0..1]</text>
<text class="sec" x="632" y="1729">&lt;&lt;optional&gt;&gt;</text>
<text class="at" x="623.6" y="1743.7">schema:availableLanguage [0..n]</text>
<text class="at" x="623.6" y="1758">schema:email [0..n]</text>
<text class="at" x="623.6" y="1771.8">schema:telephone [0..n]</text>
</g>

<g id="epos-Publication">
<rect class="box o" x="176" y="1663" width="200" height="290"/><line class="sep" x1="176" y1="1706.6" x2="376" y2="1706.6"/>
<text class="st" x="276" y="1679">&lt;&lt;optional &gt;&gt;</text><text class="nm" x="276" y="1698.8">epos:Publication</text>
<text class="sec" x="193" y="1737">&lt;&lt;mandatory&gt;&gt;</text>
<text class="at" x="184" y="1750.8">dct:identifier [1..n]</text>
<text class="at" x="184" y="1765.7">schema:name [1..1]</text>
<text class="sec" x="193" y="1794.6">&lt;&lt;recommended&gt;&gt;</text>
<text class="at" x="184" y="1808.8">dct:abstract [0..1]</text>
<text class="at" x="184" y="1822.3">schema:dataPublished [0..1]</text>
<text class="sec" x="193" y="1852">&lt;&lt;optional&gt;&gt;</text>
<text class="at" x="184" y="1866.8">schema:issn [0..1]</text>
<text class="at" x="184" y="1880.7">schema:keywords [0..1]</text>
<text class="at" x="184" y="1895">schema:license [0..1]</text>
<text class="at" x="184" y="1909.9">schema:numberOfPage [0..1]</text>
<text class="at" x="184" y="1923.8">schema:volumeNumber [0..1]</text>
</g>

<g id="schema-Person">
<rect class="box o" x="504.5" y="1885" width="260.2" height="220.5"/><line class="sep" x1="504.5" y1="1928.7" x2="764.7" y2="1928.7"/>
<text class="st" x="634.6" y="1900.6">&lt;&lt;optional &gt;&gt;</text><text class="nm" x="634.6" y="1921">schema:Person</text>
<text class="sec" x="520" y="1947">&lt;&lt;mandatory&gt;&gt;</text>
<text class="at" x="511.6" y="1960.8">dct:identifier [1..n]</text>
<text class="sec" x="521" y="1989.6">&lt;&lt;optional&gt;&gt;</text>
<text class="at" x="511.6" y="2004.5">schema:address: schema:PostalAddress [0..1]</text>
<text class="at" x="511.6" y="2018.8">schema:email [0..n]</text>
<text class="at" x="511.6" y="2032.7">schema:familyName [0..1]</text>
<text class="at" x="511.6" y="2047.6">schema:givenName [0..1]</text>
<text class="at" x="511.6" y="2061.8">schema:qualifications[1..0]</text>
<text class="at" x="511.6" y="2076.8">schema telephone [0..n]</text>
<text class="at" x="511.6" y="2090.7">schema:url [0..1]</text>
</g>

<g id="schema-Organization">
<rect class="box o" x="896.4" y="1848" width="260.3" height="257.5"/><line class="sep" x1="896.4" y1="1891.6" x2="1156.7" y2="1891.6"/>
<text class="st" x="1026.5" y="1864">&lt;&lt;optional &gt;&gt;</text><text class="nm" x="1026.5" y="1883.5">schema:Organization</text>
<text class="sec" x="913" y="1910">&lt;&lt;mandatory&gt;&gt;</text>
<text class="at" x="904" y="1924">dct:identifier [1..n]</text>
<text class="sec" x="913" y="1952.6">&lt;&lt;recommended&gt;&gt;</text>
<text class="at" x="904" y="1967.5">schema:leiCode [0..1]</text>
<text class="at" x="904" y="1981.8">schema:legalName [0..1]</text>
<text class="sec" x="913" y="2011">&lt;&lt;optional&gt;&gt;</text>
<text class="at" x="904" y="2025">epos:associtedProject: epos:Project[0..n]</text>
<text class="at" x="904" y="2039.8">schema:address: schema:PostalAddress [0..1]</text>
<text class="at" x="904" y="2053.6">schema:email [0..n]</text>
<text class="at" x="904" y="2067.9">schema:logo [0..1]</text>
<text class="at" x="904" y="2082.5">schema:telephone [0..n]</text>
<text class="at" x="904" y="2096.7">schema:url [0..1]</text>
</g>

<g id="schema-SoftwareSourceCode">
<rect class="box o" x="1211.6" y="1794.8" width="236.2" height="288.2"/><line class="sep" x1="1211.6" y1="1837.5" x2="1447.8" y2="1837.5"/>
<text class="st" x="1329.7" y="1809.5">&lt;&lt;optional&gt;&gt;</text><text class="nm" x="1329.7" y="1830">schema:SoftwareSourceCode</text>
<text class="sec" x="1226.8" y="1868">&lt;&lt;mandatory&gt;&gt;</text>
<text class="at" x="1218.8" y="1881.4">dct:identifier [1..n]</text>
<text class="sec" x="1226.8" y="1910.6">&lt;&lt;recommended&gt;&gt;</text>
<text class="at" x="1218.8" y="1926">schema:name [0..1]</text>
<text class="sec" x="1226.8" y="1953.6">&lt;&lt;optional&gt;&gt;</text>
<text class="at" x="1218.8" y="1969">schema:codeRepository [0..1]</text>
<text class="at" x="1218.8" y="1982.8">schema:description [0..1]</text>
<text class="at" x="1218.8" y="1997.4">schema:keywords [0..1]</text>
<text class="at" x="1218.8" y="2011.7">schema:license [0..1]</text>
<text class="at" x="1218.8" y="2026">schema:mainEntityOfPage [0..1]</text>
<text class="at" x="1218.8" y="2040.8">schema:programmingLanguage [0..n]</text>
<text class="at" x="1218.8" y="2054.7">schema:runtimePlatform [0..1]</text>
<text class="at" x="1218.8" y="2068.6">schema:softwareVersion [0..1]</text>
</g>

<g id="schema-SoftwareApplication">
<rect class="box o" x="1602.7" y="1773.8" width="293.3" height="308.9"/><line class="sep" x1="1602.7" y1="1816.5" x2="1896" y2="1816.5"/>
<text class="st" x="1749" y="1789">&lt;&lt;optional &gt;&gt;</text><text class="nm" x="1749" y="1808.8">schema:SoftwareApplication</text>
<text class="sec" x="1619.6" y="1835">&lt;&lt;mandatory&gt;&gt;</text>
<text class="at" x="1610" y="1849">dct:identifier [1..n]</text>
<text class="sec" x="1619.6" y="1877.8">&lt;&lt;recommended&gt;&gt;</text>
<text class="at" x="1610" y="1892.8">schema:name [0..1]</text>
<text class="sec" x="1619.6" y="1921">&lt;&lt;optional&gt;&gt;</text>
<text class="at" x="1610" y="1936">dct:relation: hydra:Operation [0..n]</text>
<text class="at" x="1610" y="1950">schema:description [0..1]</text>
<text class="at" x="1610" y="1964.7">schema:downloadUrl [0..1]</text>
<text class="at" x="1610" y="1978.6">schema:installUrl [0..1]</text>
<text class="at" x="1610" y="1992.8">schema:keywords [0..1]</text>
<text class="at" x="1610" y="2007.4">schema:license [0..1]</text>
<text class="at" x="1610" y="2021.6">schema:mainEntityOfPage [0..1]</text>
<text class="at" x="1610" y="2036">schema:potentialAction schema:ControlAction [0..1]</text>
<text class="at" x="1610" y="2050.4">schema:softwareRequirements [0..1]</text>
<text class="at" x="1610" y="2064.7">schema:softwareVersion [0..1]</text>
</g>

<g id="DatasetSeries">
<rect class="box g" x="1484.4" y="1329.7" width="240.6" height="229.3"/><line class="sep" x1="1484.4" y1="1372" x2="1725" y2="1372"/>
<text class="st" x="1604.7" y="1344.4">&lt;&lt;optional&gt;&gt;</text><text class="nm" x="1604.7" y="1364.4">DatasetSeries</text>
<text class="sec11" x="1502" y="1391">&lt;&lt;mandatory&gt;&gt;</text>
<text class="at11" x="1491.5" y="1404.4">dct:description [1..n]</text>
<text class="at11" x="1491.5" y="1418">dct:title [1..n]</text>
<text class="sec11" x="1502" y="1444">&lt;&lt;recommended&gt;&gt;</text>
<text class="at11" x="1491.5" y="1457">dct:spatial dct:Location [0..n]</text>
<text class="at11" x="1491.5" y="1470.5">dct:temporal PeriodOfTime[0 ..n]</text>
<text class="sec11" x="1498" y="1497">&lt;&lt;optional&gt;&gt;</text>
<text class="at11" x="1491.5" y="1510">dct:accrualPeriodicity: dct:Frequency [0..1]</text>
<text class="at11" x="1491.5" y="1523">dct:issued [0..1]</text>
<text class="at11" x="1491.5" y="1535.8">dct:modified [0..1]</text>
</g>

<g id="schema-Service">
<rect class="box o" x="1738" y="1458.6" width="234" height="269.4"/><line class="sep" x1="1738" y1="1501.5" x2="1972" y2="1501.5"/>
<text class="st" x="1855" y="1473.7">&lt;&lt;optional &gt;&gt;</text><text class="nm" x="1855" y="1493.7">schema:Service</text>
<text class="sec" x="1755" y="1519.8">&lt;&lt;mandatory&gt;&gt;</text>
<text class="at" x="1745.5" y="1533.4">dct:identifier [1..n]</text>
<text class="sec" x="1755" y="1562.6">&lt;&lt;recommended&gt;&gt;</text>
<text class="at" x="1745.5" y="1577.6">schema:description [0..1]</text>
<text class="at" x="1745.5" y="1591.6">schema:name [0..1]</text>
<text class="sec" x="1755" y="1621">&lt;&lt;optional&gt;&gt;</text>
<text class="at" x="1745.5" y="1634.8">dct:spatial: dct:Location [0..n]</text>
<text class="at" x="1745.5" y="1649.8">dct:temporal: dct:PeriodOfTime [0..n]</text>
<text class="at" x="1745.5" y="1663.7">schema:keywords [0..1]</text>
<text class="at" x="1745.5" y="1678">schema:serviceType [0..1]</text>
<text class="at" x="1745.5" y="1692.8">schema:url [0..1]</text>
</g>
</svg>
